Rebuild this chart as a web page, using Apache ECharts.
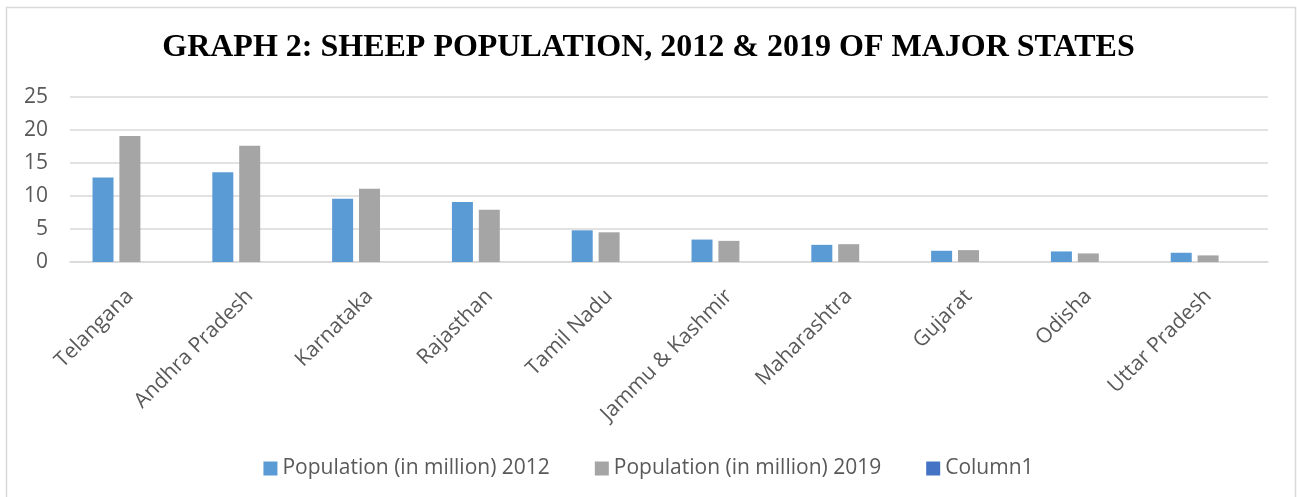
<!DOCTYPE html>
<html>
<head>
<meta charset="utf-8">
<script src="https://cdn.jsdelivr.net/npm/echarts@6/dist/echarts.min.js"></script>
<style>
html,body{margin:0;padding:0;background:#fff;}
#c{width:1297px;height:497px;}
</style>
</head>
<body>
<div id="c"></div>
<script>
const titleText = 'GRAPH 2: SHEEP POPULATION, 2012 & 2019 OF MAJOR STATES';
const categories = ['Telangana','Andhra Pradesh','Karnataka','Rajasthan','Tamil Nadu','Jammu & Kashmir','Maharashtra','Gujarat','Odisha','Uttar Pradesh'];
const pop2012 = [12.8, 13.6, 9.6, 9.1, 4.8, 3.4, 2.6, 1.7, 1.6, 1.4];
const pop2019 = [19.1, 17.6, 11.1, 7.9, 4.5, 3.2, 2.7, 1.8, 1.3, 1.0];
const column1 = [];
const seriesNames = ['Population (in million) 2012','Population (in million) 2019','Column1'];
const yTicks = [0, 5, 10, 15, 20, 25];

const chart = echarts.init(document.getElementById('c'), null, {renderer:'canvas'});
const labelFont = '"Open Sans", "Liberation Sans", sans-serif';
chart.setOption({
  animation:false,
  backgroundColor:'#fff',
  graphic:[{type:'rect', shape:{x:6.5,y:7.5,width:1289,height:500}, style:{fill:'none', stroke:'#d9d9d9', lineWidth:1.5}, silent:true}],
  title:{
    text:titleText, left:'center', top:27,
    textStyle:{fontFamily:'"Liberation Serif", "Times New Roman", serif', fontWeight:'bold', fontSize:32, color:'#000'}
  },
  legend:{
    data:seriesNames, top:453, left:'center', itemWidth:14, itemHeight:14, itemGap:45,
    icon:'rect',
    textStyle:{fontFamily:labelFont, fontSize:21, color:'#595959'}
  },
  grid:{left:70, right:29, top:97, bottom:235, containLabel:false},
  xAxis:{
    type:'category', data:categories,
    axisLine:{show:true, lineStyle:{color:'#d9d9d9', width:1.5}},
    axisTick:{show:false},
    axisLabel:{rotate:45, interval:0, margin:31, fontFamily:labelFont, fontSize:21, color:'#595959'}
  },
  yAxis:{
    type:'value', min:yTicks[0], max:yTicks[yTicks.length-1], interval:5,
    axisLine:{show:false}, axisTick:{show:false},
    splitLine:{lineStyle:{color:'#d9d9d9', width:1.5}},
    axisLabel:{margin:22, fontFamily:labelFont, fontSize:21, color:'#595959'}
  },
  series:[
    {name:seriesNames[0], type:'bar', data:pop2012, barWidth:21, barGap:'28%', itemStyle:{color:'#5B9BD5'}},
    {name:seriesNames[1], type:'bar', data:pop2019, barWidth:21, barGap:'28%', itemStyle:{color:'#A5A5A5'}},
    {name:seriesNames[2], type:'bar', data:column1, barWidth:21, itemStyle:{color:'#4472C4'}}
  ]
});
</script>
</body>
</html>
